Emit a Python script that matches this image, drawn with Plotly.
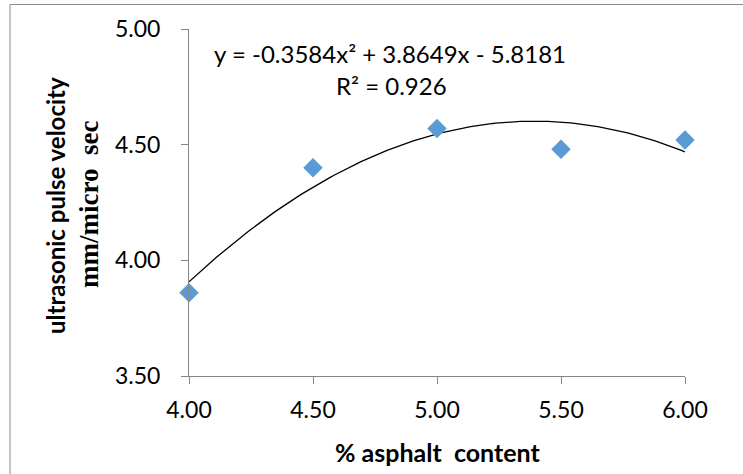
import numpy as np
import plotly.graph_objects as go

# Data
asphalt_content = [4.0, 4.5, 5.0, 5.5, 6.0]
pulse_velocity = [3.86, 4.40, 4.57, 4.48, 4.52]

# Published polynomial trendline (order 2)
coef_a = -0.3584
coef_b = 3.8649
coef_c = -5.8181
r_squared = 0.926

x_ticks = [4.0, 4.5, 5.0, 5.5, 6.0]
x_tick_labels = ["4.00", "4.50", "5.00", "5.50", "6.00"]
y_ticks = [3.5, 4.0, 4.5, 5.0]
y_tick_labels = ["3.50", "4.00", "4.50", "5.00"]

W, H = 743, 474
L, R, T, B = 189, 58, 29, 98
pw, ph = W - L - R, H - T - B

def px_x(px):
    return (px - L) / pw

def px_y(py):
    return (H - B - py) / ph

xf = np.linspace(min(asphalt_content), max(asphalt_content), 200)
yf = coef_a * xf ** 2 + coef_b * xf + coef_c

fig = go.Figure()
fig.add_trace(go.Scatter(
    x=xf, y=yf, mode="lines",
    line=dict(color="black", width=1.3),
    hoverinfo="skip", showlegend=False, cliponaxis=False,
))
fig.add_trace(go.Scatter(
    x=asphalt_content, y=pulse_velocity, mode="markers",
    marker=dict(symbol="diamond", size=15, color="#5B9BD5"),
    showlegend=False, cliponaxis=False,
))

tick_font = dict(family="Lato", size=23, color="black")
axis_color = "#868686"

fig.update_layout(
    width=W, height=H,
    margin=dict(l=L, r=R, t=T, b=B, autoexpand=False),
    paper_bgcolor="white", plot_bgcolor="white",
    xaxis=dict(
        range=[4.0, 6.0], tickvals=x_ticks, ticktext=x_tick_labels,
        showgrid=False, zeroline=False, showline=True, linecolor=axis_color, linewidth=1,
        ticks="outside", ticklen=7, tickcolor=axis_color, tickfont=tick_font,
        ticklabelstandoff=6,
    ),
    yaxis=dict(
        range=[3.5, 5.0], tickvals=y_ticks, ticktext=y_tick_labels,
        showgrid=False, zeroline=False, showline=True, linecolor=axis_color, linewidth=1,
        ticks="outside", ticklen=7, tickcolor=axis_color, tickfont=tick_font,
        ticklabelstandoff=16,
    ),
    shapes=[dict(
        type="rect", xref="paper", yref="paper",
        x0=px_x(10), x1=px_x(W + 20), y0=px_y(H + 20), y1=px_y(4.5),
        line=dict(color="#8c8c8c", width=1), fillcolor="rgba(0,0,0,0)", layer="below",
    )],
    annotations=[
        dict(
            text=f"y = {coef_a}x² + {coef_b}x - {abs(coef_c)}",
            xref="paper", yref="paper", x=px_x(390), y=px_y(53),
            showarrow=False, font=dict(family="Lato", size=24, color="black"),
            xanchor="center", yanchor="middle",
        ),
        dict(
            text=f"R² = {r_squared}",
            xref="paper", yref="paper", x=px_x(391), y=px_y(85),
            showarrow=False, font=dict(family="Lato", size=24, color="black"),
            xanchor="center", yanchor="middle",
        ),
        dict(
            text="<b>% asphalt  content</b>",
            xref="paper", yref="paper", x=px_x(437), y=px_y(452),
            showarrow=False, font=dict(family="Lato", size=25, color="black"),
            xanchor="center", yanchor="middle",
        ),
        dict(
            text="<b>ultrasonic pulse velocity</b>",
            xref="paper", yref="paper", x=px_x(55), y=px_y(206),
            showarrow=False, textangle=-90, font=dict(family="Lato", size=24, color="black"),
            xanchor="center", yanchor="middle",
        ),
        dict(
            text="<b>mm/micro  sec</b>",
            xref="paper", yref="paper", x=px_x(89), y=px_y(205),
            showarrow=False, textangle=-90,
            font=dict(family="Liberation Serif", size=27, color="black"),
            xanchor="center", yanchor="middle",
        ),
    ],
)

fig.write_html("out.html")
